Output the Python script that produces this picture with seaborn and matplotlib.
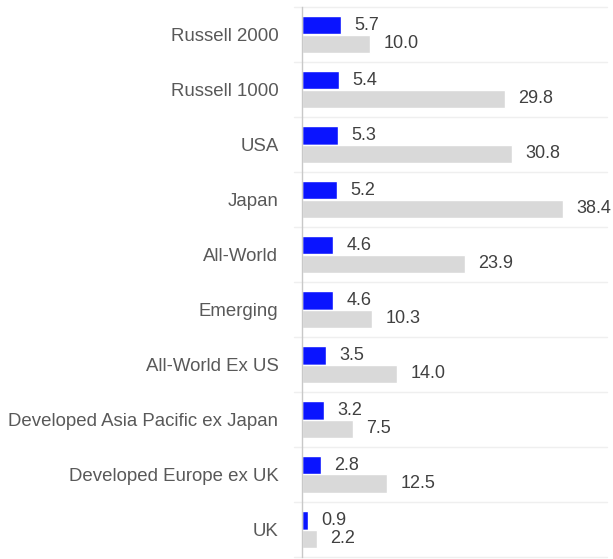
import pandas as pd
import matplotlib
matplotlib.use("Agg")
import matplotlib.pyplot as plt
import seaborn as sns

regions = ["Russell 2000", "Russell 1000", "USA", "Japan", "All-World", "Emerging",
           "All-World Ex US", "Developed Asia Pacific ex Japan",
           "Developed Europe ex UK", "UK"]
blue_vals = [5.7, 5.4, 5.3, 5.2, 4.6, 4.6, 3.5, 3.2, 2.8, 0.9]
gray_vals = [10.0, 29.8, 30.8, 38.4, 23.9, 10.3, 14.0, 7.5, 12.5, 2.2]
series = ["A", "B"]
colors = ["#0A14FF", "#D9D9D9"]

df = pd.DataFrame({
    "region": regions * 2,
    "value": blue_vals + gray_vals,
    "series": [series[0]] * len(regions) + [series[1]] * len(regions),
})

sns.set_theme(style="white")
plt.rcParams["font.family"] = ["Liberation Sans", "DejaVu Sans"]

fig = plt.figure(figsize=(6.13, 5.59), dpi=100)
ax = fig.add_axes([302 / 613, 2 / 559, 305 / 613, 550 / 559])

sns.barplot(data=df, y="region", x="value", hue="series", order=regions,
            hue_order=series, palette=colors, orient="h", width=0.69,
            dodge=True, saturation=1, legend=False, ax=ax)

# value labels
for cont in ax.containers:
    for bar in cont:
        w = bar.get_width()
        ax.annotate(f"{w:.1f}", (w, bar.get_y() + bar.get_height() / 2),
                    xytext=(9.5, 0), textcoords="offset points",
                    ha="left", va="center", fontsize=13, color="#404040")

# faint separators between categories
for i in range(len(regions) + 1):
    ax.plot([-0.025, 1.0], [i - 0.5, i - 0.5], transform=ax.get_yaxis_transform(),
            color="#EFEFEF", lw=1, clip_on=False, zorder=0)

ax.set_xlim(0, 44.8)
ax.set_ylim(len(regions) - 0.5, -0.5)
ax.set_xlabel("")
ax.set_ylabel("")
ax.set_xticks([])
ax.tick_params(axis="y", length=0, pad=17, labelsize=13.4, labelcolor="#595959")
for s in ["top", "right", "bottom"]:
    ax.spines[s].set_visible(False)
ax.spines["left"].set_color("#C8C8C8")
ax.spines["left"].set_linewidth(1)

fig.savefig("out.png", dpi=100)
